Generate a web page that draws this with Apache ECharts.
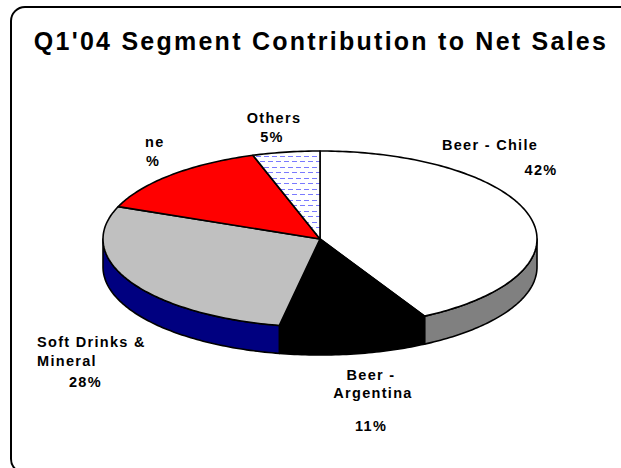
<!DOCTYPE html>
<html>
<head>
<meta charset="utf-8">
<script src="https://cdn.jsdelivr.net/npm/echarts@6/dist/echarts.min.js"></script>
<style>
  html, body { margin: 0; padding: 0; background: #fff; }
  #chart { width: 621px; height: 468px; }
  #chart svg text { letter-spacing: 0.09em; }
</style>
</head>
<body>
<div id="chart"></div>
<script>
// ---- data ----
const categories = ['Beer - Chile', 'Beer - Argentina', 'Soft Drinks & Mineral', 'Wine', 'Others'];
const shares = [42, 11, 28, 14, 5];
const titleText = "Q1'04 Segment Contribution to Net Sales";
const labelLines = [
  ['Beer - Chile', '42%'],
  ['Beer -', 'Argentina', '11%'],
  ['Soft Drinks &', 'Mineral', '28%'],
  ['ne', '%'],
  ['Others', '5%']
];

// ---- styles / layout ----
const topColors = ['#ffffff', '#000000', '#c0c0c0', '#ff0000', 'pattern'];
const sideColors = ['#808080', '#000000', '#000080', '#800000', '#9999ff'];
const labelPos = [
  [[490, 145, 'center'], [541, 170, 'center']],
  [[371, 375, 'center'], [373, 393, 'center'], [371, 426, 'center']],
  [[37, 342, 'left'], [37, 361, 'left'], [69, 382, 'left']],
  [[145, 142, 'left'], [146, 161, 'left']],
  [[274, 118, 'center'], [272, 137, 'center']]
];
const CX = 320, CY = 239, RX = 217, RY = 88, DEPTH = 28;

// dashed pattern for "Others"
const pc = document.createElement('canvas');
pc.width = 8; pc.height = 11;
const pg = pc.getContext('2d');
pg.fillStyle = '#ffffff'; pg.fillRect(0, 0, 8, 11);
pg.fillStyle = '#7a7aff';
pg.fillRect(0, 2, 5, 1);
pg.fillRect(4, 7, 5, 1);
pg.fillRect(0, 7, 1, 1);
const othersPattern = { image: pc, repeat: 'repeat' };

const total = shares.reduce((a, b) => a + b, 0);

function pt(deg, dy) {
  const t = deg * Math.PI / 180;
  return [CX + RX * Math.sin(t), CY - RY * Math.cos(t) + (dy || 0)];
}

function renderItem(params, api) {
  const i = params.dataIndex;
  let cum = 0;
  for (let k = 0; k < i; k++) cum += shares[k];
  const a = cum / total * 360;
  const b = (cum + api.value(0)) / total * 360;
  const children = [];
  // side wall (front-facing portion: 90..270 deg)
  const s1 = Math.max(a, 90), s2 = Math.min(b, 270);
  if (s2 > s1) {
    const top = [], bot = [];
    const n = Math.max(2, Math.ceil(s2 - s1));
    for (let j = 0; j <= n; j++) {
      const d = s1 + (s2 - s1) * j / n;
      top.push(pt(d, 0));
      bot.push(pt(d, DEPTH));
    }
    children.push({
      type: 'polygon',
      shape: { points: top.concat(bot.reverse()) },
      style: { fill: sideColors[i], stroke: '#000', lineWidth: 1.6, lineJoin: 'round' }
    });
  }
  // top face
  const pts = [[CX, CY]];
  const n2 = Math.max(2, Math.ceil(b - a));
  for (let j = 0; j <= n2; j++) pts.push(pt(a + (b - a) * j / n2, 0));
  children.push({
    type: 'polygon',
    shape: { points: pts },
    style: {
      fill: topColors[i] === 'pattern' ? othersPattern : topColors[i],
      stroke: '#000', lineWidth: 1.6, lineJoin: 'round'
    }
  });
  return { type: 'group', children: children };
}

const graphics = [
  {
    type: 'rect', z: 0,
    shape: { x: 11, y: 7, width: 660, height: 466, r: 14 },
    style: { fill: 'none', stroke: '#000', lineWidth: 2 }
  },
  {
    type: 'text', z: 10, x: 321, y: 41,
    style: {
      text: titleText, fill: '#000', align: 'center', verticalAlign: 'middle',
      font: 'bold 25px "Liberation Sans", Arial, sans-serif'
    }
  }
];
labelLines.forEach((lines, i) => {
  lines.forEach((t, j) => {
    const p = labelPos[i][j];
    graphics.push({
      type: 'text', z: 10, x: p[0], y: p[1],
      style: {
        text: t, fill: '#000', align: p[2], verticalAlign: 'middle',
        font: 'bold 14.5px "Liberation Sans", Arial, sans-serif'
      }
    });
  });
});

const chart = echarts.init(document.getElementById('chart'), null, { renderer: 'svg' });
chart.setOption({
  animation: false,
  backgroundColor: '#ffffff',
  graphic: graphics,
  series: [{
    type: 'custom',
    coordinateSystem: 'none',
    name: 'Net Sales',
    data: shares.map((v, i) => ({ name: categories[i], value: [v] })),
    renderItem: renderItem,
    silent: true
  }]
});
</script>
</body>
</html>
